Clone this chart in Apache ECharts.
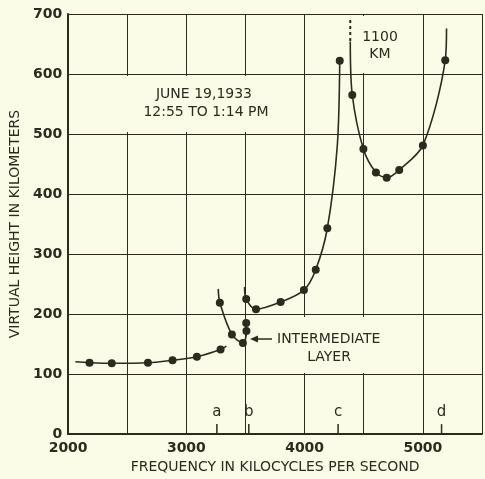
<!DOCTYPE html>
<html>
<head>
<meta charset="utf-8">
<script src="https://cdn.jsdelivr.net/npm/echarts@6/dist/echarts.min.js"></script>
<style>
  html, body { margin: 0; padding: 0; background: #fafce8; }
  #chart { width: 485px; height: 479px; }
</style>
</head>
<body>
<div id="chart"></div>
<script>
  // lower layer (E region) - freq in kc, virtual height in km; dot=0 is just the drawn curve end
  const eFreq   = [2061, 2181, 2369, 2675, 2883, 3089, 3289, 3339];
  const eHeight = [120.5, 119, 118, 119, 123, 129, 141, 146.5];
  const eDot    = [0, 1, 1, 1, 1, 1, 1, 0];

  // intermediate layer
  const iFreq   = [3270, 3283, 3385, 3478, 3508, 3506, 3503];
  const iHeight = [242, 219, 166, 152, 172, 185, 190];
  const iDot    = [0, 1, 1, 1, 1, 1, 0];

  // F1 branch
  const f1Freq   = [3492, 3506, 3589, 3797, 3994, 4094, 4192, 4276, 4297];
  const f1Height = [245, 225, 208, 220, 240, 274, 343, 480, 622];
  const f1Dot    = [0, 1, 1, 1, 1, 1, 1, 0, 1];

  // F2 branch
  const f2Freq   = [4386, 4403, 4497, 4603, 4694, 4800, 5000, 5189, 5200];
  const f2Height = [654, 565, 475, 436, 427, 440, 481, 623, 676];
  const f2Dot    = [0, 1, 1, 1, 1, 1, 1, 1, 0];

  // dashed part up to 1100 km
  const dashFreq   = [4386, 4386];
  const dashHeight = [690, 654];

  // critical frequency marks
  const markFreq  = [3258, 3528, 4283, 5158];
  const markLabel = ['a', 'b', 'c', 'd'];

  const ink = '#2a2c1e';
  const bg = '#fafce8';
  const font = 'DejaVu Sans';

  const build = (fs, hs, dots) => fs.map((f, i) => ({
    value: [f, hs[i]],
    symbol: dots[i] ? 'circle' : 'none'
  }));

  const curve = (data, s) => ({
    type: 'line',
    data: data,
    smooth: s,
    symbolSize: 8,
    showAllSymbol: true,
    lineStyle: { color: ink, width: 1.6 },
    itemStyle: { color: ink },
    z: 3,
    animation: false
  });

  const chart = echarts.init(document.getElementById('chart'));

  chart.setOption({
    backgroundColor: bg,
    textStyle: { fontFamily: font },
    grid: { left: 66, right: 0, top: 14, bottom: 43 },
    xAxis: {
      type: 'value',
      min: 2000,
      max: 5500,
      interval: 500,
      name: 'FREQUENCY IN KILOCYCLES PER SECOND',
      nameLocation: 'middle',
      nameGap: 23,
      nameTextStyle: { color: ink, fontSize: 14, fontFamily: font },
      axisLine: { lineStyle: { color: ink, width: 2 } },
      axisTick: { show: false },
      axisLabel: {
        color: ink, fontSize: 14, fontWeight: 'bold', margin: 7,
        formatter: v => (v % 1000 === 0 ? String(v) : '')
      },
      splitLine: { lineStyle: { color: ink, width: 1 } }
    },
    yAxis: {
      type: 'value',
      min: 0,
      max: 700,
      interval: 100,
      name: 'VIRTUAL HEIGHT IN KILOMETERS',
      nameLocation: 'middle',
      nameGap: 44,
      nameTextStyle: { color: ink, fontSize: 14, fontFamily: font },
      axisLine: { show: true, lineStyle: { color: ink, width: 2 } },
      axisTick: { show: false },
      axisLabel: { color: ink, fontSize: 14, fontWeight: 'bold', margin: 6 },
      splitLine: { lineStyle: { color: ink, width: 1 } }
    },
    series: [
      curve(build(eFreq, eHeight, eDot), 0.35),
      curve(build(iFreq, iHeight, iDot), 0.35),
      curve(build(f1Freq, f1Height, f1Dot), 0.3),
      curve(build(f2Freq, f2Height, f2Dot), 0.3),
      {
        type: 'line',
        data: dashFreq.map((f, i) => [f, dashHeight[i]]),
        showSymbol: false,
        lineStyle: { color: ink, width: 2, type: [3, 3] },
        z: 3,
        animation: false
      },
      {
        type: 'scatter',
        data: markFreq.map((f, i) => ({ value: [f, 8.3], label: { formatter: markLabel[i] } })),
        symbol: 'rect',
        symbolSize: [1.5, 10],
        itemStyle: { color: ink, opacity: 1 },
        label: {
          show: true, position: 'top', distance: 5,
          color: ink, fontSize: 15, fontFamily: font
        },
        silent: true,
        animation: false
      }
    ],
    graphic: [
      { type: 'rect', shape: { x: 120, y: 76, width: 132, height: 56 }, style: { fill: bg }, z: 1 },
      { type: 'rect', shape: { x: 274, y: 317, width: 128, height: 56 }, style: { fill: bg }, z: 1 },
      { type: 'rect', shape: { x: 359, y: 16, width: 46, height: 57 }, style: { fill: bg }, z: 1 },
      { type: 'text', x: 204, y: 94, z: 4, style: { text: 'JUNE 19,1933', font: '14px "DejaVu Sans"', fill: ink, textAlign: 'center', textVerticalAlign: 'middle' } },
      { type: 'text', x: 206, y: 112, z: 4, style: { text: '12:55 TO 1:14 PM', font: '14px "DejaVu Sans"', fill: ink, textAlign: 'center', textVerticalAlign: 'middle' } },
      { type: 'text', x: 380, y: 37, z: 4, style: { text: '1100', font: '14px "DejaVu Sans"', fill: ink, textAlign: 'center', textVerticalAlign: 'middle' } },
      { type: 'text', x: 380, y: 54, z: 4, style: { text: 'KM', font: '14px "DejaVu Sans"', fill: ink, textAlign: 'center', textVerticalAlign: 'middle' } },
      { type: 'text', x: 277, y: 339, z: 4, style: { text: 'INTERMEDIATE', font: '14px "DejaVu Sans"', fill: ink, textAlign: 'left', textVerticalAlign: 'middle' } },
      { type: 'text', x: 329, y: 357, z: 4, style: { text: 'LAYER', font: '14px "DejaVu Sans"', fill: ink, textAlign: 'center', textVerticalAlign: 'middle' } },
      { type: 'line', z: 4, shape: { x1: 256, y1: 339, x2: 272, y2: 339 }, style: { stroke: ink, lineWidth: 1.5 } },
      { type: 'polygon', z: 4, shape: { points: [[250, 339], [258, 335.5], [258, 342.5]] }, style: { fill: ink } }
    ]
  });
</script>
</body>
</html>
